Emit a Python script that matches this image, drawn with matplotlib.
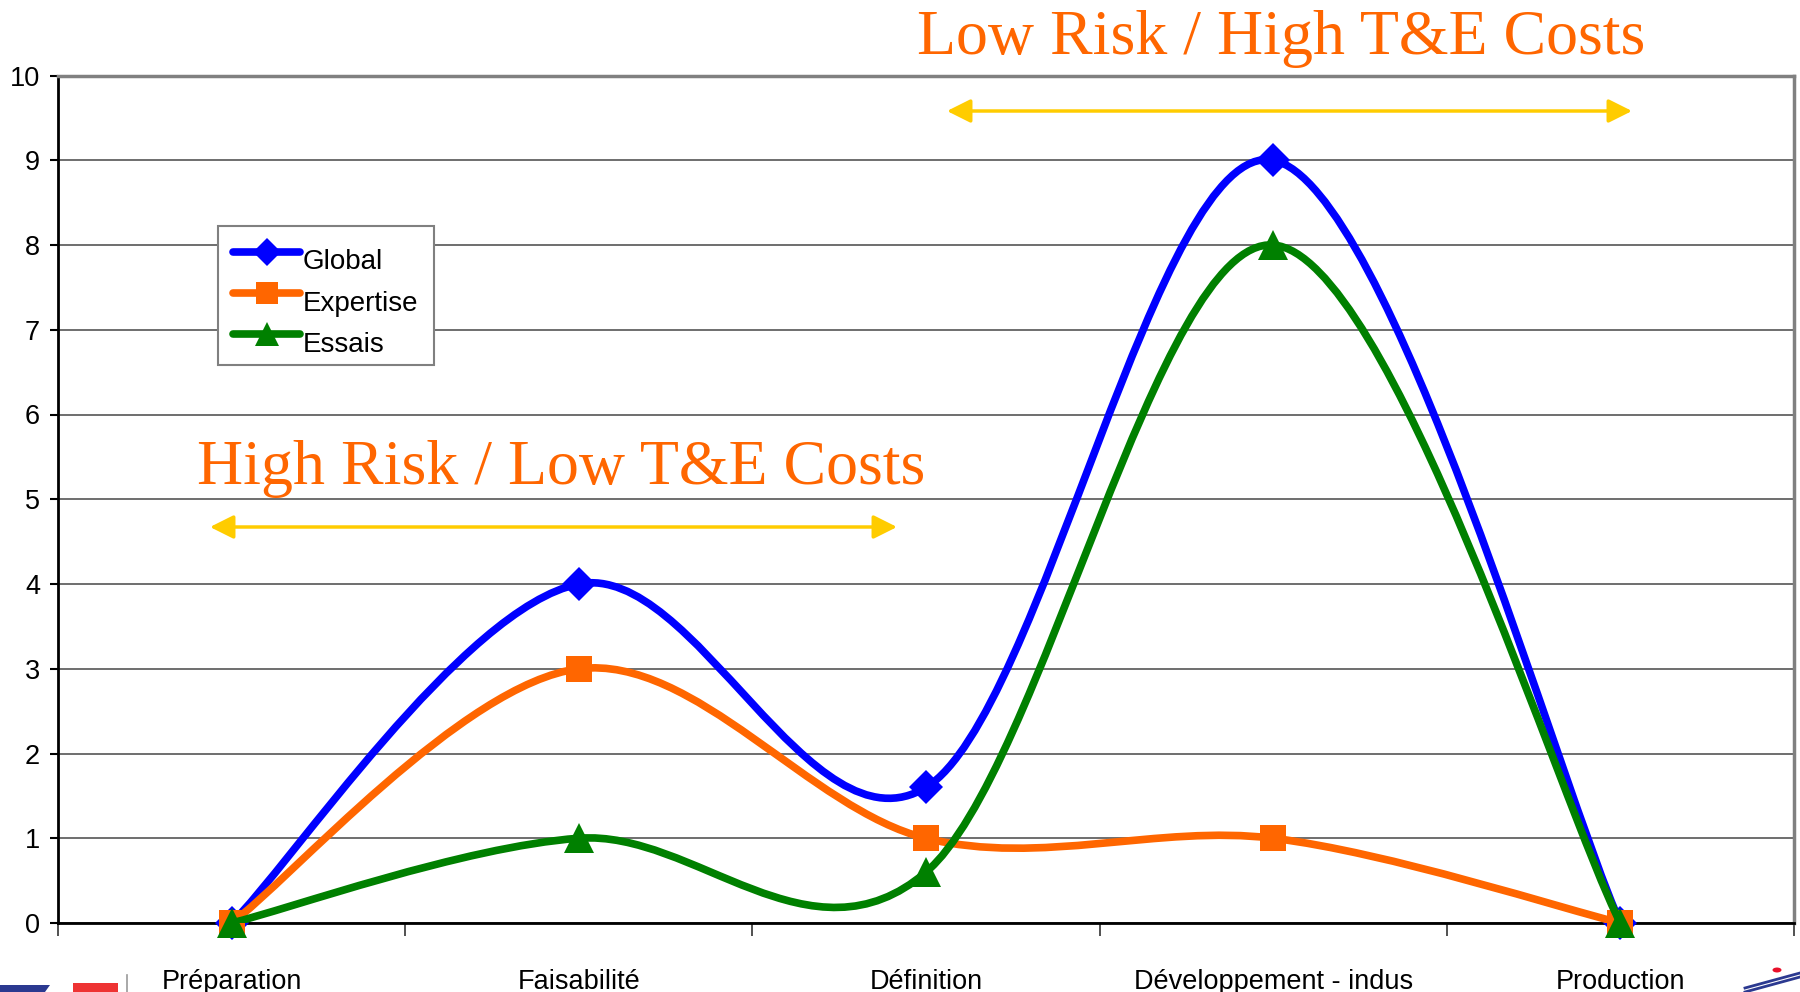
import numpy as np
import matplotlib
matplotlib.use("Agg")
import matplotlib.pyplot as plt
from matplotlib.path import Path
from matplotlib.patches import PathPatch, Polygon, Circle, FancyArrowPatch
from matplotlib.lines import Line2D

plt.rcParams['font.family'] = ['Liberation Sans', 'DejaVu Sans']

# phases of the programme
phases = ['Préparation', 'Faisabilité', 'Définition', 'Développement - indus', 'Production']
global_vals = [0, 4, 1.6, 9, 0]
expertise_vals = [0, 3, 1, 1, 0]
essais_vals = [0, 1, 0.6, 8, 0]

series = [
    ('Global', global_vals, '#0000FF', 'D', 17),
    ('Expertise', expertise_vals, '#FF6600', 's', 19),
    ('Essais', essais_vals, '#008000', '^', 21),
]

W, H = 1800, 992
fig = plt.figure(figsize=(W / 100, H / 100), dpi=100)
ax = fig.add_axes([58 / W, 1 - 923 / H, (1794 - 58) / W, (923 - 75.5) / H])


def smooth_path(xs, ys):
    # Catmull-Rom style bezier segments, like a spreadsheet "smoothed line"
    pts = np.column_stack([xs, ys]).astype(float)
    n = len(pts)
    verts = [pts[0]]
    codes = [Path.MOVETO]
    for i in range(n - 1):
        p0 = pts[max(i - 1, 0)]
        p1 = pts[i]
        p2 = pts[i + 1]
        p3 = pts[min(i + 2, n - 1)]
        c1 = p1 + (p2 - p0) / 6
        c2 = p2 - (p3 - p1) / 6
        verts += [c1, c2, p2]
        codes += [Path.CURVE4] * 3
    return Path(verts, codes)


x = np.arange(len(phases))
handles = []
for k, (name, vals, col, mk, ms) in enumerate(series):
    patch = PathPatch(smooth_path(x, vals), facecolor='none', edgecolor=col,
                      lw=5.5, capstyle='round', joinstyle='round', zorder=3 + 2 * k)
    ax.add_patch(patch)
    ax.plot(x, vals, ls='none', marker=mk, color=col, markersize=ms,
            markeredgewidth=0, zorder=4 + 2 * k, clip_on=False)
    handles.append(Line2D([], [], color=col, lw=5.5, marker=mk, markersize=ms * 0.85,
                          markeredgewidth=0, solid_capstyle='round'))

ax.set_xlim(-0.5, len(phases) - 0.5)
ax.set_ylim(0, 10)
ax.set_yticks(range(0, 11))
ax.yaxis.grid(True, color='#555555', lw=1.2)
ax.set_axisbelow(True)

ax.set_xticks(x)
ax.set_xticklabels(phases, fontsize=19.5)
ax.set_xticks(np.arange(-0.5, len(phases)), minor=True)
ax.tick_params(axis='x', which='major', length=0, pad=33)
ax.tick_params(axis='x', which='minor', length=9, width=1.2, direction='out', color='#333333')
ax.tick_params(axis='y', length=6, width=1.5, pad=7, labelsize=19.5)

for side in ['left', 'bottom']:
    ax.spines[side].set_color('black')
    ax.spines[side].set_linewidth(2)
for side in ['top', 'right']:
    ax.spines[side].set_color('#808080')
    ax.spines[side].set_linewidth(2.5)

leg = ax.legend(handles, [s[0] for s in series], loc='upper left',
                bbox_to_anchor=(218 / W, 1 - 226 / H), bbox_transform=fig.transFigure,
                borderaxespad=0, fancybox=False, framealpha=1, edgecolor='#808080',
                fontsize=20, handlelength=2.4, handletextpad=0.1, labelspacing=0.55,
                borderpad=0.55)
leg.get_frame().set_linewidth(1.5)
# labels sit a little below their line samples
for t in leg.get_texts():
    t.set_y(-8)

# phase annotations
orange = '#FF6600'
gold = '#FFCC00'
fig.text(1281 / W, 1 - 54 / H, 'Low Risk / High T&E Costs', ha='center', va='baseline',
         fontsize=46, color=orange, family=['Liberation Serif', 'DejaVu Serif'])
fig.text(561 / W, 1 - 484 / H, 'High Risk / Low T&E Costs', ha='center', va='baseline',
         fontsize=46, color=orange, family=['Liberation Serif', 'DejaVu Serif'])

for x0, x1, yy in [(947, 1632, 111), (210, 897, 527)]:
    arr = FancyArrowPatch((x0 / W, 1 - yy / H), (x1 / W, 1 - yy / H),
                          transform=fig.transFigure,
                          arrowstyle='<|-|>,head_length=1.1,head_width=0.55',
                          mutation_scale=13, color=gold, lw=2.5, shrinkA=0, shrinkB=0)
    fig.patches.append(arr)

# corner logos
fig.patches.append(Polygon([(0, 0), (45 / W, 0), (50 / W, 7 / H), (0, 7 / H)],
                           closed=True, transform=fig.transFigure, color='#2B3990', lw=0))
fig.patches.append(Polygon([(73 / W, 0), (118 / W, 0), (118 / W, 9 / H), (73 / W, 9 / H)],
                           closed=True, transform=fig.transFigure, color='#EE3333', lw=0))
fig.add_artist(Line2D([127 / W, 127 / W], [0, 17 / H], transform=fig.transFigure,
                      color='#999999', lw=1.2))
fig.patches.append(Circle((1777 / W, 1 - 970 / H), 4.5 / W, transform=fig.transFigure,
                          color='#E8102A', lw=0))
for off in [0, 4]:
    fig.add_artist(Line2D([1745 / W, 1800 / W], [(0 + off) / H, (15 + off) / H],
                          transform=fig.transFigure, color='#2B3990', lw=2))

fig.savefig('out.png', dpi=100)
